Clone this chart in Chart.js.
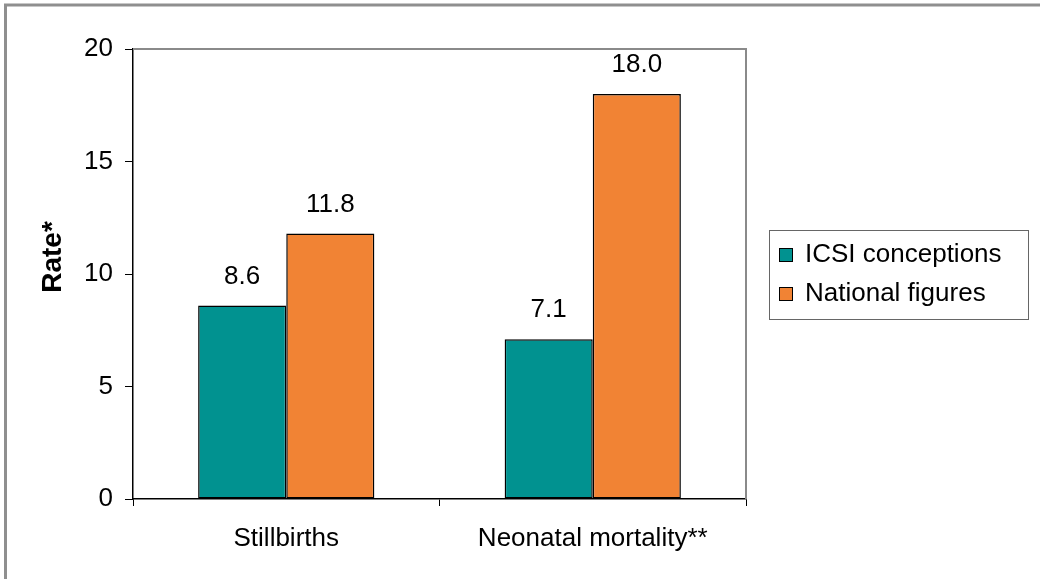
<!DOCTYPE html>
<html><head><meta charset="utf-8">
<script src="https://cdn.jsdelivr.net/npm/chart.js@4/dist/chart.umd.min.js"></script>
<style>html,body{margin:0;padding:0;background:#fff;}#wrap{position:relative;width:1040px;height:579px;}canvas{display:block}</style>
</head><body><div id="wrap"><canvas id="c" width="1040" height="579"></canvas></div>
<script>
const categories = ['Stillbirths', 'Neonatal mortality**'];
const seriesNames = ['ICSI conceptions', 'National figures'];
const icsiValues = [8.6, 7.1];
const nationalValues = [11.8, 18.0];
const yTickValues = [0, 5, 10, 15, 20];
const yTitle = 'Rate*';
const colors = ['#019290', '#F18334'];

const FONT = '"Liberation Sans", Arial, sans-serif';
Chart.defaults.font.family = FONT;
Chart.defaults.color = '#000';

const extras = {
  id: 'extras',
  afterDraw(chart) {
    const ctx = chart.ctx;
    const a = chart.chartArea;
    ctx.save();
    // outer frame (left/top)
    ctx.strokeStyle = '#8f8f8f';
    ctx.lineWidth = 3;
    ctx.beginPath();
    ctx.moveTo(5.5, 579); ctx.lineTo(5.5, 5); ctx.lineTo(1040, 5);
    ctx.stroke();
    // plot area top/right border
    ctx.strokeStyle = '#8a8a8a';
    ctx.lineWidth = 2;
    ctx.beginPath();
    ctx.moveTo(a.left, a.top); ctx.lineTo(a.right, a.top); ctx.lineTo(a.right, a.bottom);
    ctx.stroke();
    // y title
    ctx.fillStyle = '#000';
    ctx.font = 'bold 28px ' + FONT;
    ctx.textAlign = 'center';
    ctx.textBaseline = 'middle';
    ctx.translate(53, 257);
    ctx.rotate(-Math.PI / 2);
    ctx.fillText(yTitle, 0, 0);
    ctx.restore();

    // value labels
    ctx.save();
    ctx.fillStyle = '#000';
    ctx.font = '26px ' + FONT;
    ctx.textAlign = 'center';
    ctx.textBaseline = 'middle';
    chart.data.datasets.forEach((ds, di) => {
      const meta = chart.getDatasetMeta(di);
      meta.data.forEach((el, i) => {
        ctx.fillText(Number(ds.data[i]).toFixed(1), el.x, el.y - 29);
      });
    });
    ctx.restore();

    // legend
    ctx.save();
    const lx = 769, ly = 230, lw = 259, lh = 89;
    ctx.strokeStyle = '#666';
    ctx.lineWidth = 1;
    ctx.strokeRect(lx + 0.5, ly + 0.5, lw, lh);
    ctx.font = '26px ' + FONT;
    ctx.textAlign = 'left';
    ctx.textBaseline = 'middle';
    chart.data.datasets.forEach((ds, di) => {
      const cy = 255 + di * 39;
      ctx.fillStyle = ds.backgroundColor;
      ctx.fillRect(779, cy - 7, 14, 14);
      ctx.strokeStyle = '#000';
      ctx.lineWidth = 1;
      ctx.strokeRect(779.5, cy - 6.5, 13, 13);
      ctx.fillStyle = '#000';
      ctx.fillText(ds.label, 805, cy);
    });
    ctx.restore();
  }
};

new Chart(document.getElementById('c'), {
  type: 'bar',
  data: {
    labels: categories,
    datasets: [
      { label: seriesNames[0], data: icsiValues, backgroundColor: colors[0], borderColor: '#000', borderWidth: 1.5, borderSkipped: false },
      { label: seriesNames[1], data: nationalValues, backgroundColor: colors[1], borderColor: '#000', borderWidth: 1.5, borderSkipped: false }
    ]
  },
  options: {
    responsive: false,
    animation: false,
    devicePixelRatio: 1,
    layout: { padding: { top: 49, right: 294, left: 0, bottom: 0 } },
    plugins: { legend: { display: false }, tooltip: { enabled: false } },
    datasets: { bar: { categoryPercentage: 0.575, barPercentage: 1.0 } },
    scales: {
      x: {
        afterFit(s) { s.height = 80; },
        grid: { display: true, drawOnChartArea: false, drawTicks: true, tickLength: 7, tickColor: '#000', offset: true },
        border: { display: true, color: '#000', width: 1.5 },
        ticks: { font: { size: 26 }, color: '#000', padding: 17, maxRotation: 0 }
      },
      y: {
        min: 0, max: 20,
        afterFit(s) { s.width = 133; },
        afterBuildTicks(s) { s.ticks = yTickValues.map(v => ({ value: v })); },
        grid: { display: true, drawOnChartArea: false, drawTicks: true, tickLength: 8, tickColor: '#000' },
        border: { display: true, color: '#000', width: 1.5 },
        ticks: { font: { size: 26 }, color: '#000', padding: 12 }
      }
    }
  },
  plugins: [extras]
});
</script>
</body></html>
